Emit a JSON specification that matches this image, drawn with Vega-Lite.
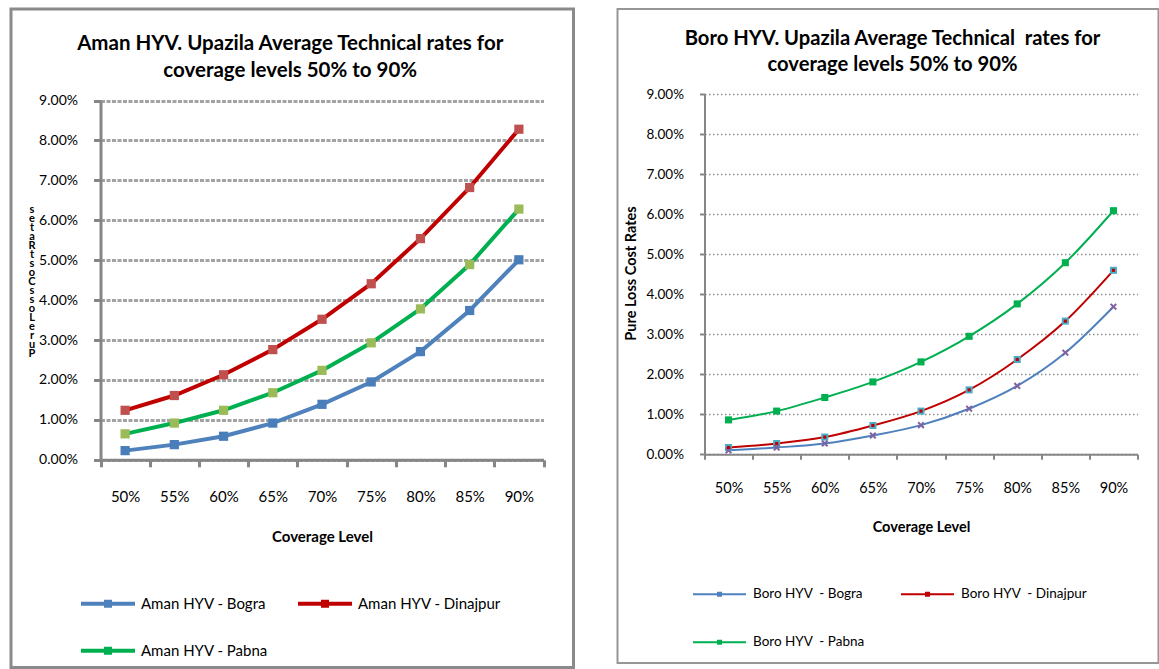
{
  "$schema": "https://vega.github.io/schema/vega-lite/v6.json",
  "background": "white",
  "padding": {"left": 9, "top": 7, "right": 0, "bottom": 0},
  "spacing": 41.5,
  "config": {
    "font": "Lato",
    "axis": {"labelFont": "Lato", "titleFont": "Lato", "labelColor": "#000000", "titleColor": "#000000"},
    "legend": {"labelFont": "Lato", "labelColor": "#000000"},
    "title": {"font": "Lato", "color": "#000000"}
  },
  "datasets": {
    "aman": [
      {"coverage": "50%", "series": "Aman HYV - Bogra", "rate": 0.0023},
      {"coverage": "55%", "series": "Aman HYV - Bogra", "rate": 0.0038},
      {"coverage": "60%", "series": "Aman HYV - Bogra", "rate": 0.0059},
      {"coverage": "65%", "series": "Aman HYV - Bogra", "rate": 0.0092},
      {"coverage": "70%", "series": "Aman HYV - Bogra", "rate": 0.0139},
      {"coverage": "75%", "series": "Aman HYV - Bogra", "rate": 0.0195},
      {"coverage": "80%", "series": "Aman HYV - Bogra", "rate": 0.0271},
      {"coverage": "85%", "series": "Aman HYV - Bogra", "rate": 0.0374},
      {"coverage": "90%", "series": "Aman HYV - Bogra", "rate": 0.0501},
      {"coverage": "50%", "series": "Aman HYV - Dinajpur", "rate": 0.0124},
      {"coverage": "55%", "series": "Aman HYV - Dinajpur", "rate": 0.0161},
      {"coverage": "60%", "series": "Aman HYV - Dinajpur", "rate": 0.0213},
      {"coverage": "65%", "series": "Aman HYV - Dinajpur", "rate": 0.0276},
      {"coverage": "70%", "series": "Aman HYV - Dinajpur", "rate": 0.0352},
      {"coverage": "75%", "series": "Aman HYV - Dinajpur", "rate": 0.0441},
      {"coverage": "80%", "series": "Aman HYV - Dinajpur", "rate": 0.0554},
      {"coverage": "85%", "series": "Aman HYV - Dinajpur", "rate": 0.0682},
      {"coverage": "90%", "series": "Aman HYV - Dinajpur", "rate": 0.0828},
      {"coverage": "50%", "series": "Aman HYV - Pabna", "rate": 0.0065},
      {"coverage": "55%", "series": "Aman HYV - Pabna", "rate": 0.0092},
      {"coverage": "60%", "series": "Aman HYV - Pabna", "rate": 0.0124},
      {"coverage": "65%", "series": "Aman HYV - Pabna", "rate": 0.0168},
      {"coverage": "70%", "series": "Aman HYV - Pabna", "rate": 0.0224},
      {"coverage": "75%", "series": "Aman HYV - Pabna", "rate": 0.0293},
      {"coverage": "80%", "series": "Aman HYV - Pabna", "rate": 0.0378},
      {"coverage": "85%", "series": "Aman HYV - Pabna", "rate": 0.0489},
      {"coverage": "90%", "series": "Aman HYV - Pabna", "rate": 0.0628}
    ],
    "boro": [
      {"coverage": "50%", "series": "Boro HYV\u00a0 - Bogra", "rate": 0.0010},
      {"coverage": "55%", "series": "Boro HYV\u00a0 - Bogra", "rate": 0.0017},
      {"coverage": "60%", "series": "Boro HYV\u00a0 - Bogra", "rate": 0.0027},
      {"coverage": "65%", "series": "Boro HYV\u00a0 - Bogra", "rate": 0.0047},
      {"coverage": "70%", "series": "Boro HYV\u00a0 - Bogra", "rate": 0.0073},
      {"coverage": "75%", "series": "Boro HYV\u00a0 - Bogra", "rate": 0.0114},
      {"coverage": "80%", "series": "Boro HYV\u00a0 - Bogra", "rate": 0.0171},
      {"coverage": "85%", "series": "Boro HYV\u00a0 - Bogra", "rate": 0.0254},
      {"coverage": "90%", "series": "Boro HYV\u00a0 - Bogra", "rate": 0.0369},
      {"coverage": "50%", "series": "Boro HYV\u00a0 - Dinajpur", "rate": 0.0017},
      {"coverage": "55%", "series": "Boro HYV\u00a0 - Dinajpur", "rate": 0.0027},
      {"coverage": "60%", "series": "Boro HYV\u00a0 - Dinajpur", "rate": 0.0043},
      {"coverage": "65%", "series": "Boro HYV\u00a0 - Dinajpur", "rate": 0.0072},
      {"coverage": "70%", "series": "Boro HYV\u00a0 - Dinajpur", "rate": 0.0108},
      {"coverage": "75%", "series": "Boro HYV\u00a0 - Dinajpur", "rate": 0.0161},
      {"coverage": "80%", "series": "Boro HYV\u00a0 - Dinajpur", "rate": 0.0237},
      {"coverage": "85%", "series": "Boro HYV\u00a0 - Dinajpur", "rate": 0.0333},
      {"coverage": "90%", "series": "Boro HYV\u00a0 - Dinajpur", "rate": 0.0460},
      {"coverage": "50%", "series": "Boro HYV\u00a0 - Pabna", "rate": 0.0086},
      {"coverage": "55%", "series": "Boro HYV\u00a0 - Pabna", "rate": 0.0108},
      {"coverage": "60%", "series": "Boro HYV\u00a0 - Pabna", "rate": 0.0142},
      {"coverage": "65%", "series": "Boro HYV\u00a0 - Pabna", "rate": 0.0181},
      {"coverage": "70%", "series": "Boro HYV\u00a0 - Pabna", "rate": 0.0231},
      {"coverage": "75%", "series": "Boro HYV\u00a0 - Pabna", "rate": 0.0295},
      {"coverage": "80%", "series": "Boro HYV\u00a0 - Pabna", "rate": 0.0376},
      {"coverage": "85%", "series": "Boro HYV\u00a0 - Pabna", "rate": 0.0479},
      {"coverage": "90%", "series": "Boro HYV\u00a0 - Pabna", "rate": 0.0609}
    ]
  },
  "resolve": {
    "scale": {"x": "independent", "y": "independent", "stroke": "independent", "fill": "independent"},
    "axis": {"x": "independent", "y": "independent"},
    "legend": {"stroke": "independent", "fill": "independent"}
  },
  "hconcat": [
    {
      "width": 562.5,
      "height": 658.5,
      "view": {"stroke": "#8a8a8a", "strokeWidth": 3},
      "data": {"name": "aman"},
      "title": {
        "text": ["Aman HYV. Upazila Average Technical rates for", "coverage levels 50% to 90%"],
        "frame": "group", "anchor": "middle", "offset": -72.5, "dx": -2,
        "fontSize": 20.5, "fontWeight": "bold", "lineHeight": 27, "color": "#000000"
      },
      "encoding": {
        "x": {
          "field": "coverage", "type": "ordinal", "bandPosition": 0.5,
          "scale": {"type": "band", "range": [89.5, 532.5], "paddingInner": 0, "paddingOuter": 0},
          "axis": {
            "orient": "bottom", "offset": -207.7, "tickBand": "extent",
            "domainColor": "#868686", "domainWidth": 3,
            "tickColor": "#868686", "tickWidth": 3, "tickSize": 7,
            "grid": false, "labelAngle": 0, "labelFontSize": 15, "labelPadding": 23,
            "title": "Coverage Level", "titleFontSize": 15, "titleFontWeight": "bold", "titlePadding": 25
          }
        },
        "y": {
          "field": "rate", "type": "quantitative",
          "scale": {"domain": [0, 0.09], "range": [450.8, 91.5], "nice": false, "zero": true},
          "axis": {
            "orient": "left", "offset": -89.5,
            "values": [0, 0.01, 0.02, 0.03, 0.04, 0.05, 0.06, 0.07, 0.08, 0.09],
            "format": ".2%",
            "domainColor": "#868686", "domainWidth": 3,
            "tickColor": "#868686", "tickWidth": 3, "tickSize": 7,
            "grid": true, "gridColor": "#a3a3a3", "gridWidth": 3, "gridDash": [4, 1.5],
            "labelFontSize": 14, "labelPadding": 16,
            "title": ["s", "e", "t", "a", "R", "t", "s", "o", "C", "s", "s", "o", "L", "e", "r", "u", "P"],
            "titleAngle": 0, "titleX": -69, "titleY": 194, "titleAlign": "center", "titleBaseline": "top",
            "titleFontSize": 11, "titleFontWeight": "bold", "titleLineHeight": 9
          }
        }
      },
      "layer": [
        {
          "mark": {"type": "line", "strokeWidth": 4, "interpolate": "linear"},
          "encoding": {
            "stroke": {
              "field": "series", "type": "nominal",
              "scale": {"domain": ["Aman HYV - Bogra", "Aman HYV - Dinajpur", "Aman HYV - Pabna"], "range": ["#4f81bd", "#c00000", "#00b050"]},
              "legend": {
                "orient": "none", "legendX": 68, "legendY": 565.7, "columns": 2, "direction": "horizontal", "title": null, "padding": 0,
                "symbolType": "M-1,0H1M-0.074,-0.074H0.074V0.074H-0.074Z",
                "symbolSize": 2916, "symbolStrokeWidth": 4,
                "labelFontSize": 15, "labelOffset": 4, "rowPadding": 8, "columnPadding": 22
              }
            }
          }
        },
        {
          "mark": {"type": "point", "shape": "square", "filled": true, "size": 85, "opacity": 1},
          "encoding": {
            "fill": {
              "field": "series", "type": "nominal",
              "scale": {"domain": ["Aman HYV - Bogra", "Aman HYV - Dinajpur", "Aman HYV - Pabna"], "range": ["#4a7ebb", "#c0504d", "#9bbb59"]},
              "legend": null
            }
          }
        }
      ]
    },
    {
      "width": 541,
      "height": 654,
      "view": {"stroke": "#969696", "strokeWidth": 2},
      "data": {"name": "boro"},
      "title": {
        "text": ["Boro HYV. Upazila Average Technical\u00a0 rates for", "coverage levels 50% to 90%"],
        "frame": "group", "anchor": "middle", "offset": -66, "dx": 4.5,
        "fontSize": 20.2, "fontWeight": "bold", "lineHeight": 26, "color": "#000000"
      },
      "encoding": {
        "x": {
          "field": "coverage", "type": "ordinal", "bandPosition": 0.5,
          "scale": {"type": "band", "range": [87, 520], "paddingInner": 0, "paddingOuter": 0},
          "axis": {
            "orient": "bottom", "offset": -208.7, "tickBand": "extent",
            "domainColor": "#868686", "domainWidth": 2,
            "tickColor": "#868686", "tickWidth": 2, "tickSize": 5,
            "grid": false, "labelAngle": 0, "labelFontSize": 14.5, "labelPadding": 22,
            "title": "Coverage Level", "titleFontSize": 14.5, "titleFontWeight": "bold", "titlePadding": 26
          }
        },
        "y": {
          "field": "rate", "type": "quantitative",
          "scale": {"domain": [0, 0.09], "range": [445.3, 85.3], "nice": false, "zero": true},
          "axis": {
            "orient": "left", "offset": -87,
            "values": [0, 0.01, 0.02, 0.03, 0.04, 0.05, 0.06, 0.07, 0.08, 0.09],
            "format": ".2%",
            "domainColor": "#868686", "domainWidth": 2,
            "tickColor": "#868686", "tickWidth": 2, "tickSize": 5,
            "grid": true, "gridColor": "#8c8c8c", "gridWidth": 1.5, "gridDash": [1.5, 2.5],
            "labelFontSize": 13.5, "labelPadding": 16,
            "title": "Pure Loss Cost Rates",
            "titleX": -73, "titleY": 264, "titleAlign": "center", "titleBaseline": "middle",
            "titleFontSize": 14.5, "titleFontWeight": "bold"
          }
        }
      },
      "layer": [
        {
          "mark": {"type": "line", "strokeWidth": 2, "interpolate": "monotone"},
          "encoding": {
            "stroke": {
              "field": "series", "type": "nominal",
              "scale": {"domain": ["Boro HYV\u00a0 - Bogra", "Boro HYV\u00a0 - Dinajpur", "Boro HYV\u00a0 - Pabna"], "range": ["#4f81bd", "#c00000", "#00b050"]},
              "legend": {
                "orient": "none", "legendX": 74.5, "legendY": 557.8, "columns": 2, "direction": "horizontal", "title": null, "padding": 0,
                "symbolType": "M-1,0H1M-0.057,-0.057H0.057V0.057H-0.057Z",
                "symbolSize": 2809, "symbolStrokeWidth": 2,
                "labelFontSize": 13.5, "labelOffset": 6, "rowPadding": 14, "columnPadding": 32
              }
            }
          }
        },
        {
          "transform": [{"filter": "indexof(datum.series, 'Bogra') < 0"}],
          "mark": {"type": "point", "shape": "square", "filled": true, "size": 50, "opacity": 1},
          "encoding": {
            "fill": {
              "field": "series", "type": "nominal",
              "scale": {"domain": ["Boro HYV\u00a0 - Bogra", "Boro HYV\u00a0 - Dinajpur", "Boro HYV\u00a0 - Pabna"], "range": ["#7f62a1", "#4bacc6", "#00b050"]},
              "legend": null
            }
          }
        },
        {
          "transform": [{"filter": "indexof(datum.series, 'Bogra') >= 0"}],
          "mark": {"type": "point", "shape": "M-1,-0.6L-0.6,-1L0,-0.4L0.6,-1L1,-0.6L0.4,0L1,0.6L0.6,1L0,0.4L-0.6,1L-1,0.6L-0.4,0Z", "filled": true, "size": 50, "opacity": 1, "fill": "#7f62a1"}
        },
        {
          "transform": [{"filter": "indexof(datum.series, 'Dinajpur') >= 0"}],
          "mark": {"type": "point", "shape": "square", "filled": true, "size": 10, "opacity": 1, "fill": "#c00000"}
        }
      ]
    }
  ]
}
